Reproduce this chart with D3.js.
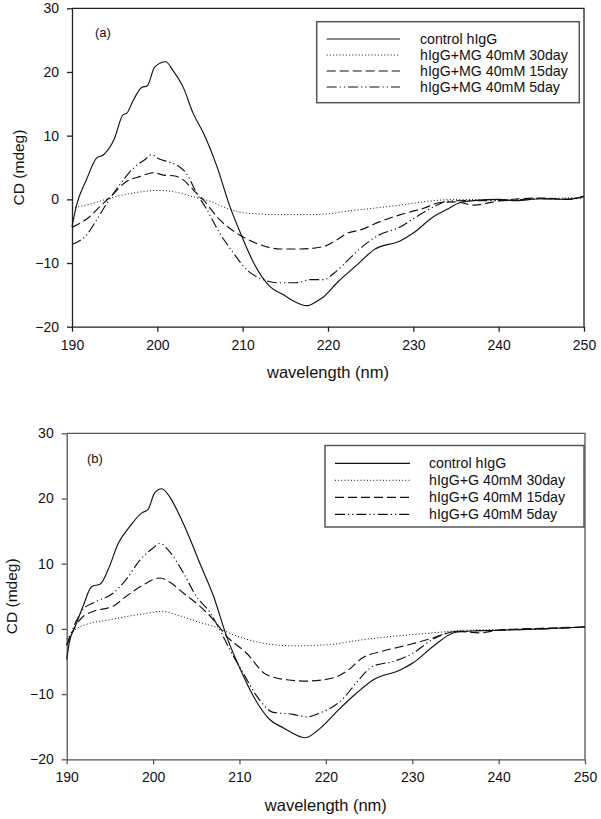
<!DOCTYPE html>
<html><head><meta charset="utf-8">
<script src="https://cdn.jsdelivr.net/npm/d3@7"></script>
<style>body{margin:0;background:#fff}svg{display:block;font-family:"Liberation Sans",Arial,sans-serif}</style>
</head><body><svg id="c" width="601" height="819"></svg>
<script>
// ---- data ----
const xTicks = [190, 200, 210, 220, 230, 240, 250];
const yTicks = [-20, -10, 0, 10, 20, 30];
const legendA = ["control hIgG", "hIgG+MG 40mM 30day", "hIgG+MG 40mM 15day", "hIgG+MG 40mM 5day"];
const legendB = ["control hIgG", "hIgG+G 40mM 30day", "hIgG+G 40mM 15day", "hIgG+G 40mM 5day"];

const aControl = [[190,-4.3],[190.5,-1.1],[191.7,3.1],[192.9,6.5],[193.7,7.0],[194.9,9.3],[196,13.3],[196.4,13.5],[197.2,15.6],[198.2,17.6],[198.8,17.8],[199.7,20.8],[201,21.6],[201.8,20.3],[203,17.7],[204.2,13.5],[205.4,10.4],[207,5.1],[208.5,-1.1],[209.9,-5.8],[211.3,-10],[213.2,-13.7],[214.8,-15],[216,-16],[217.5,-16.7],[218.7,-16.0],[219.3,-15.5],[221.2,-12.9],[223.4,-10.3],[225.4,-7.9],[228.5,-6.5],[230,-5.3],[232.4,-2.7],[233.9,-1.6],[235.5,-0.5],[237,-0.2],[240,0],[242,-0.2],[245,0.1],[248,0],[249.5,0.3],[250,0.5]];
const aDay30 = [[190,-1.4],[192.5,-0.6],[194.5,0.2],[197.2,1.0],[200,1.4],[202.3,1.1],[204.2,0.4],[206.2,-0.3],[208.1,-1.4],[210.1,-2.1],[212,-2.3],[214,-2.4],[217.5,-2.4],[220.5,-2.2],[222,-1.9],[224.6,-1.5],[228.5,-0.9],[232.4,-0.2],[235,0],[240,-0.1],[245,0.1],[250,0.3]];
const aDay15 = [[190,-4.4],[192.1,-2.7],[193.3,-1.1],[194.5,0.4],[196.4,2.8],[198,3.6],[199.6,4.2],[200.7,3.8],[201.9,3.7],[203,3.1],[204.2,1.5],[205.4,-0.1],[207.3,-3.2],[209.9,-5.8],[212,-7.1],[214.4,-7.8],[216.7,-7.8],[219.5,-7.4],[221,-6.4],[222.3,-5.3],[223.8,-4.8],[226.1,-3.5],[228.5,-2.4],[231.2,-1.4],[233.2,-0.5],[235,-0.4],[237.1,-0.9],[240.2,-0.2],[244.9,0.2],[248,0],[250,0.4]];
const aDay5 = [[190,-7.1],[191.7,-5.6],[192.9,-3.2],[194.1,-0.6],[195.6,2.3],[197.2,4.9],[198.6,6.3],[199.3,7.0],[200.3,6.3],[201.5,5.8],[202.6,5.1],[203.4,4.1],[204.6,1.0],[205.8,-1.6],[207.3,-5.3],[208.9,-8.4],[210.5,-11.1],[212.4,-12.6],[214,-13.1],[216.3,-13.1],[217.9,-12.6],[219.5,-12.6],[220.7,-11.6],[222.6,-9.2],[223.8,-7.7],[225.7,-5.8],[228.5,-4.3],[230.4,-2.7],[232.8,-0.9],[233.9,-0.3],[236,-0.2],[240,-0.2],[245,0.1],[248,0],[250,0.3]];

const bControl = [[190,-4.7],[190.3,-2.1],[191,0.4],[191.9,3.5],[192.9,6.5],[193.9,6.9],[194.8,9.1],[196,13.2],[197.3,15.7],[198.7,17.8],[199.4,18.3],[200.2,20.9],[201,21.5],[202,20.1],[203.1,17.3],[204.3,13.7],[205.4,10.1],[207,5.0],[208.5,-1.1],[210.1,-6.2],[211.6,-10.3],[213.5,-13.9],[215.1,-15.2],[217.6,-16.7],[219.3,-15.3],[221.4,-12.5],[223.6,-9.8],[225.5,-7.8],[228.6,-6.3],[230.1,-5.2],[232.4,-2.7],[234.8,-0.6],[235.9,-0.4],[240,-0.2],[245,0],[250,0.3]];
const bDay30 = [[190,-1.6],[191,-0.1],[192.3,0.7],[195,1.4],[196.9,1.9],[198.9,2.3],[201,2.7],[203.1,2.0],[205.4,1.0],[207.4,0.2],[209.3,-0.9],[212.4,-2.1],[216.2,-2.6],[220.5,-2.4],[223.5,-1.8],[226.6,-1.3],[232.4,-0.6],[236.3,-0.2],[240,-0.1],[245,0],[250,0.3]];
const bDay15 = [[190,-2.5],[191,0.4],[191.9,1.9],[193.1,2.7],[195.4,3.5],[196.9,5.0],[198.9,6.8],[200.8,7.8],[202,7.1],[203.5,5.5],[205.4,3.5],[207,1.4],[208.5,-1.1],[210.8,-3.7],[213.1,-7.0],[215.5,-7.8],[217.8,-8.0],[220.9,-7.5],[222.4,-6.5],[224.3,-4.4],[226.6,-3.4],[229.7,-2.4],[232.4,-1.4],[235.1,-0.4],[237.8,-0.6],[240,-0.2],[245,0.1],[250,0.3]];
const bDay5 = [[190,-2.5],[191,0.9],[191.9,3.0],[193.1,4.0],[195.4,5.5],[196.9,7.6],[198.5,10.6],[200,12.4],[200.8,13.1],[202,11.7],[203.5,8.6],[205,5.0],[206.6,2.5],[207.7,-0.1],[208.9,-3.2],[210.4,-6.7],[212,-10.3],[213.9,-12.8],[216.2,-13.1],[217.8,-13.5],[219.3,-12.9],[221.2,-11.6],[222.2,-10.4],[223.5,-8.3],[225.5,-5.7],[227.8,-5.0],[230.1,-3.7],[232.4,-1.6],[234.8,-0.4],[240,-0.2],[245,0],[250,0.3]];

// ---- drawing ----
const dashes = [null, "1,2.2", "9,4", "10,3,1.2,3,1.2,3"];
const svg = d3.select("#c");
const FONT = '"Liberation Sans",Arial,sans-serif';

function panel(cfg) {
  const x = d3.scaleLinear().domain([190, 250]).range([cfg.left, cfg.right]);
  const y = d3.scaleLinear().domain([-20, 30]).range([cfg.bottom, cfg.top]);
  const g = svg.append("g");
  const col = cfg.axisColor;

  const xa = g.append("g").attr("transform", `translate(0,${cfg.bottom})`)
    .call(d3.axisBottom(x).tickValues(xTicks).tickSize(5).tickPadding(8).tickSizeOuter(0));
  const ya = g.append("g").attr("transform", `translate(${cfg.left},0)`)
    .call(d3.axisLeft(y).tickValues(yTicks).tickSize(5).tickPadding(8).tickSizeOuter(0));
  [xa, ya].forEach(a => {
    a.selectAll("path,line").attr("stroke", col).attr("stroke-width", 1.3);
    a.selectAll("text").attr("fill", "#111").style("font-size", "14px").style("font-family", FONT);
  });
  g.append("path").attr("d", `M${cfg.left},${cfg.top}H${cfg.right}V${cfg.bottom}`)
    .attr("fill", "none").attr("stroke", col).attr("stroke-width", 1.3);

  const line = d3.line().curve(d3.curveMonotoneX).x(d => x(d[0])).y(d => y(d[1]));
  cfg.series.forEach((s, i) => {
    g.append("path").datum(s).attr("d", line).attr("fill", "none")
      .attr("stroke", "#111").attr("stroke-width", i === 1 ? 1 : 1.15)
      .attr("stroke-dasharray", dashes[i]);
  });

  g.append("text").attr("x", cfg.tagX).attr("y", cfg.tagY).text(cfg.tag)
    .style("font-size", "13px").attr("fill", "#111");
  g.append("text").attr("transform", `translate(${cfg.ytitleX},${(cfg.top + cfg.bottom) / 2}) rotate(-90)`)
    .attr("text-anchor", "middle").text("CD (mdeg)").style("font-size", "15.5px").attr("fill", "#111");
  g.append("text").attr("x", (cfg.left + cfg.right) / 2).attr("y", cfg.xtitleY)
    .attr("text-anchor", "middle").text("wavelength (nm)").style("font-size", "16.5px").attr("fill", "#111");

  const L = cfg.legend;
  g.append("rect").attr("x", L.x0).attr("y", L.y0).attr("width", L.x1 - L.x0).attr("height", L.y1 - L.y0)
    .attr("fill", "#fff").attr("stroke", "#555").attr("stroke-width", 1.5);
  cfg.labels.forEach((t, i) => {
    const yy = L.row0 + i * L.step;
    g.append("line").attr("x1", L.lx0).attr("x2", L.lx1).attr("y1", yy).attr("y2", yy)
      .attr("stroke", "#111").attr("stroke-width", i === 1 ? 1 : 1.15).attr("stroke-dasharray", dashes[i]);
    g.append("text").attr("x", L.tx).attr("y", yy + 5).text(t)
      .style("font-size", "14.2px").attr("fill", "#111");
  });
}

panel({
  left: 72, right: 584, top: 8.3, bottom: 326.7, axisColor: "#222",
  series: [aControl, aDay30, aDay15, aDay5], labels: legendA,
  tag: "(a)", tagX: 95, tagY: 37, ytitleX: 23.5, xtitleY: 378,
  legend: {x0: 316.7, x1: 579.3, y0: 21.7, y1: 102.7, row0: 39, step: 16, lx0: 326.7, lx1: 400, tx: 420}
});
panel({
  left: 66.7, right: 585, top: 433.3, bottom: 759.3, axisColor: "#555",
  series: [bControl, bDay30, bDay15, bDay5], labels: legendB,
  tag: "(b)", tagX: 87, tagY: 463, ytitleX: 17, xtitleY: 811,
  legend: {x0: 325, x1: 584, y0: 445.5, y1: 527, row0: 463.3, step: 17, lx0: 335, lx1: 410, tx: 429}
});
</script></body></html>
